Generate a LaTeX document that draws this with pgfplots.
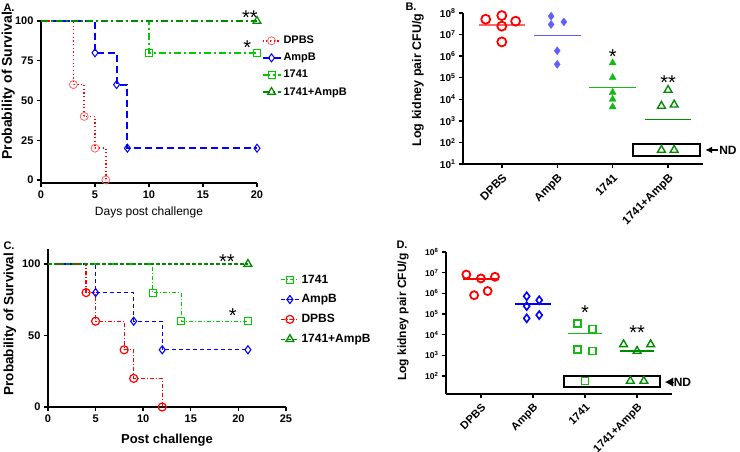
\documentclass[border=0pt]{standalone}
\usepackage{fontspec}
\setmainfont{Liberation Sans}
\usepackage{pgfplots}
\pgfplotsset{compat=1.18}
\usetikzlibrary{arrows.meta}

\definecolor{cred}{RGB}{255,0,0}
\definecolor{cpink}{RGB}{255,100,100}
\definecolor{cblue}{RGB}{0,0,255}
\definecolor{clblue}{RGB}{95,95,255}
\definecolor{clime}{RGB}{0,204,0}
\definecolor{cgreen}{RGB}{20,185,20}
\definecolor{cdkgreen}{RGB}{0,140,0}

\pgfdeclareplotmark{cdot}{%
 \pgfpathcircle{\pgfpointorigin}{\pgfplotmarksize}\pgfusepathqstroke
 \pgfpathcircle{\pgfpointorigin}{0.7pt}\pgfusepathqfill}

\tikzset{astk/.style={font=\fontsize{20}{20}\selectfont, inner sep=0pt}}

\pgfplotsset{
  mystyle/.style={scale only axis, clip=false, axis lines*=left,
    axis line style={line width=1.6pt},
    tick style={line width=1.4pt, black}, tick align=outside, major tick length=4pt,
    /pgf/number format/assume math mode=true,
    tick label style={font=\bfseries\fontsize{11}{12}\selectfont}},
  mylegimg/.style={legend image code/.code={%
    \draw[##1, mark indices={2}] plot coordinates {(0pt,0pt) (9pt,0pt) (18pt,0pt)};}},
}

\begin{document}
\begin{tikzpicture}
\useasboundingbox (0,0) rectangle (740pt,452pt);

% ---------------- Panel A ----------------
\begin{axis}[mystyle, mylegimg, at={(41pt,269pt)}, anchor=south west,
  width=216pt, height=162pt, xmin=0, xmax=20, ymin=-1.9, ymax=100,
  xtick={0,5,10,15,20}, ytick={0,25,50,75,100},
  xlabel={Days post challenge},
  xlabel style={font=\fontsize{12}{14}\selectfont, at={(axis description cs:0.5,-0.18)}, anchor=center},
  ylabel={Probability of Survival},
  ylabel style={font=\bfseries\fontsize{14}{16}\selectfont, at={(axis description cs:-0.152,0.6)}, anchor=center},
  legend style={draw=none, fill=none, at={(axis description cs:1.02,0.92)}, anchor=north west,
    font=\bfseries\fontsize{11}{13}\selectfont, row sep=4pt, inner sep=0pt},
  legend cell align=left]
\addplot[cred, line width=1.6pt, dash pattern=on 1.2pt off 2.5pt, const plot, mark=cdot,
  mark indices={2,3,4,5}, mark options={cpink, solid, line width=0.8pt}, mark size=4pt]
  coordinates {(0,100)(3,60)(4,40)(5,20)(6,0)};
\addlegendentry{DPBS}
\addplot[cblue, line width=2pt, dash pattern=on 7pt off 4pt, const plot, mark=diamond,
  mark indices={2,3,4,5}, mark options={solid, line width=1pt}, mark size=4pt]
  coordinates {(0,100)(5,80)(7,60)(8,20)(20,20)};
\addlegendentry{AmpB}
\addplot[clime, line width=1.8pt, dash pattern=on 7pt off 3pt on 2pt off 3pt, const plot, mark=square,
  mark indices={2,3}, mark options={solid, line width=0.8pt}, mark size=3.5pt]
  coordinates {(0,100)(10,80)(20,80)};
\addlegendentry{1741}
\addplot[cdkgreen, line width=1.8pt, dash pattern=on 7pt off 3pt on 2pt off 3pt, const plot, mark=triangle,
  mark indices={2}, mark options={solid, line width=1.2pt}, mark size=4.5pt]
  coordinates {(0,100)(20,100)};
\addlegendentry{1741+AmpB}
\node[astk] at (axis cs:19.35,102) {**};
\node[astk] at (axis cs:19.1,83) {*};
\end{axis}
\node[font=\bfseries\fontsize{11}{12}\selectfont, anchor=west] at (0pt,444pt) {A.};

% ---------------- Panel B ----------------
\begin{axis}[mystyle, at={(463pt,288pt)}, anchor=south west,
  width=240pt, height=151pt, xmin=-0.7, xmax=3.63,
  ymode=log, ymin=10, ymax=1e8, yminorticks=false,
  xtick={0,1,2,3}, xticklabels={DPBS,AmpB,1741,1741+AmpB},
  xticklabel style={rotate=45, anchor=north east, font=\bfseries\fontsize{11.5}{12}\selectfont},
  ytick={1e1,1e2,1e3,1e4,1e5,1e6,1e7,1e8},
  yticklabels={10\textsuperscript{1},10\textsuperscript{2},10\textsuperscript{3},10\textsuperscript{4},10\textsuperscript{5},10\textsuperscript{6},10\textsuperscript{7},10\textsuperscript{8}},
  yticklabel style={font=\bfseries\fontsize{10}{12}\selectfont},
  ylabel={Log kidney pair CFU/g},
  ylabel style={font=\bfseries\fontsize{12.5}{14}\selectfont, at={(axis description cs:-0.1875,0.556)}, anchor=center}]
\draw[line width=1.6pt] (axis cs:2.37,85) rectangle (axis cs:3.58,23.4);
\addplot[only marks, mark=o, cred, mark size=4.5pt, line width=1.8pt]
  coordinates {(-0.29,5.13e7)(0,7.59e7)(0,2.45e7)(0.25,4.17e7)(0,4.57e6)};
\addplot[cpink, line width=1.5pt] coordinates {(-0.42,2.8e7)(0.42,2.8e7)};
\addplot[only marks, mark=diamond*, clblue, mark size=4pt]
  coordinates {(0.89,7.08e7)(0.89,2.95e7)(1.12,3.89e7)(1,1.78e6)(1,4.17e5)};
\addplot[clblue, line width=1.5pt] coordinates {(0.58,9.1e6)(1.42,9.1e6)};
\addplot[only marks, mark=triangle*, cgreen, mark size=4pt]
  coordinates {(2,4.9e5)(2,1.02e5)(2,2.09e4)(2,1.0e4)(2,4.47e3)};
\addplot[cgreen, line width=1.5pt] coordinates {(1.58,3.55e4)(2.42,3.55e4)};
\addplot[only marks, mark=triangle, cdkgreen, mark size=4.5pt, line width=1.4pt]
  coordinates {(3,2.69e4)(2.88,4.9e3)(3.11,5.6e3)(2.88,44.7)(3.11,44.7)};
\addplot[cdkgreen, line width=1.5pt] coordinates {(2.58,1.17e3)(3.42,1.17e3)};
\draw[line width=1.6pt, -{Latex[length=7pt,width=7pt]}] (axis cs:3.9,44.7) -- (axis cs:3.67,44.7);
\node[anchor=west, font=\bfseries\fontsize{12}{12}\selectfont, inner sep=0pt] at (axis cs:3.92,44.7) {ND};
\node[astk] at (axis cs:2,1.0e6) {*};
\node[astk] at (axis cs:3,6e4) {**};
\end{axis}
\node[font=\bfseries\fontsize{11}{12}\selectfont] at (411pt,445pt) {B.};

% ---------------- Panel C ----------------
\begin{axis}[mystyle, mylegimg, at={(48pt,45pt)}, anchor=south west,
  width=238pt, height=158pt, xmin=0, xmax=25, ymin=0, ymax=110.5,
  xtick={0,5,10,15,20,25}, ytick={0,50,100},
  xlabel={Post challenge},
  xlabel style={font=\bfseries\fontsize{13}{15}\selectfont, at={(axis description cs:0.5,-0.21)}, anchor=center},
  ylabel={Probability of Survival},
  ylabel style={font=\bfseries\fontsize{13.5}{16}\selectfont, at={(axis description cs:-0.16,0.525)}, anchor=center},
  legend style={draw=none, fill=none, at={(axis description cs:0.975,0.85)}, anchor=north west,
    font=\bfseries\fontsize{12}{14}\selectfont, row sep=6pt, inner sep=0pt},
  legend cell align=left]
\addplot[clime, line width=1.2pt, dash pattern=on 4pt off 2pt on 1pt off 2pt, const plot, mark=square,
  mark indices={2,3,4}, mark options={solid, line width=1.1pt}, mark size=3.5pt]
  coordinates {(0,100)(11,80)(14,60)(21,60)};
\addlegendentry{1741}
\addplot[cblue, line width=1.3pt, dash pattern=on 4pt off 3pt, const plot, mark=diamond,
  mark indices={2,3,4,5}, mark options={solid, line width=1.1pt}, mark size=4pt]
  coordinates {(0,100)(5,80)(9,60)(12,40)(21,40)};
\addlegendentry{AmpB}
\addplot[cred, line width=1.3pt, dash pattern=on 4pt off 2pt on 1pt off 2pt, const plot, mark=cdot,
  mark indices={2,3,4,5,6}, mark options={solid, line width=1.2pt}, mark size=4pt]
  coordinates {(0,100)(4,80)(5,60)(8,40)(9,20)(12,0)};
\addlegendentry{DPBS}
\addplot[cdkgreen, line width=1.3pt, dash pattern=on 4pt off 2pt, const plot, mark=triangle,
  mark indices={2}, mark options={solid, line width=1.3pt}, mark size=4.5pt]
  coordinates {(0,100)(21,100)};
\addlegendentry{1741+AmpB}
\node[astk] at (axis cs:18.8,102) {**};
\node[astk] at (axis cs:19.4,64) {*};
\end{axis}
\node[font=\bfseries\fontsize{11}{12}\selectfont, anchor=west] at (0pt,206pt) {C.};

% ---------------- Panel D ----------------
\begin{axis}[mystyle, at={(446pt,58pt)}, anchor=south west,
  width=226pt, height=142pt, xmin=-0.67, xmax=3.67,
  ymode=log, ymin=13.5, ymax=1e8, yminorticks=false,
  xtick={0,1,2,3}, xticklabels={DPBS,AmpB,1741,1741+AmpB},
  xticklabel style={rotate=45, anchor=north east, font=\bfseries\fontsize{11}{12}\selectfont},
  ytick={1e2,1e3,1e4,1e5,1e6,1e7,1e8},
  yticklabels={10\textsuperscript{2},10\textsuperscript{3},10\textsuperscript{4},10\textsuperscript{5},10\textsuperscript{6},10\textsuperscript{7},10\textsuperscript{8}},
  yticklabel style={font=\bfseries\fontsize{8.5}{10}\selectfont},
  ylabel={Log kidney pair CFU/g},
  ylabel style={font=\bfseries\fontsize{12}{14}\selectfont, at={(axis description cs:-0.19,0.54)}, anchor=center}]
\draw[line width=1.6pt] (axis cs:1.6,100) rectangle (axis cs:3.44,29.5);
\addplot[only marks, mark=o, cred, mark size=4pt, line width=1.8pt]
  coordinates {(-0.28,8.13e6)(0,5.25e6)(0.27,6.31e6)(-0.13,8.13e5)(0.13,1.29e6)};
\addplot[cred, line width=1.5pt] coordinates {(-0.34,5.0e6)(0.34,5.0e6)};
\addplot[only marks, mark=diamond, cblue, mark size=4pt, line width=1.6pt]
  coordinates {(0.88,7.24e5)(1.12,4.68e5)(0.88,2.4e5)(0.88,6.17e4)(1.12,8.9e4)};
\addplot[cblue, line width=1.5pt] coordinates {(0.65,3.09e5)(1.35,3.09e5)};
\addplot[only marks, mark=square, cgreen, mark size=3.5pt, line width=1.6pt]
  coordinates {(1.85,3.39e4)(2.14,1.86e4)(1.85,1.95e3)(2.14,1.62e3)(2,57.5)};
\addplot[cgreen, line width=1.5pt] coordinates {(1.67,1.15e4)(2.33,1.15e4)};
\addplot[only marks, mark=triangle, cdkgreen, mark size=4.5pt, line width=1.4pt]
  coordinates {(2.74,3.39e3)(3,1.62e3)(3.26,3.39e3)(2.87,57.5)(3.13,57.5)};
\addplot[cdkgreen, line width=1.5pt] coordinates {(2.67,1.6e3)(3.33,1.6e3)};
\draw[-{Latex[length=8pt,width=9pt]}, line width=0.1pt] (axis cs:3.7,51) -- (axis cs:3.54,51);
\node[anchor=west, font=\bfseries\fontsize{12}{12}\selectfont, inner sep=0pt] at (axis cs:3.7,51) {ND};
\node[astk] at (axis cs:2,1.2e5) {*};
\node[astk] at (axis cs:3,1.3e4) {**};
\end{axis}
\node[font=\bfseries\fontsize{11}{12}\selectfont] at (402pt,207pt) {D.};
\end{tikzpicture}
\end{document}
